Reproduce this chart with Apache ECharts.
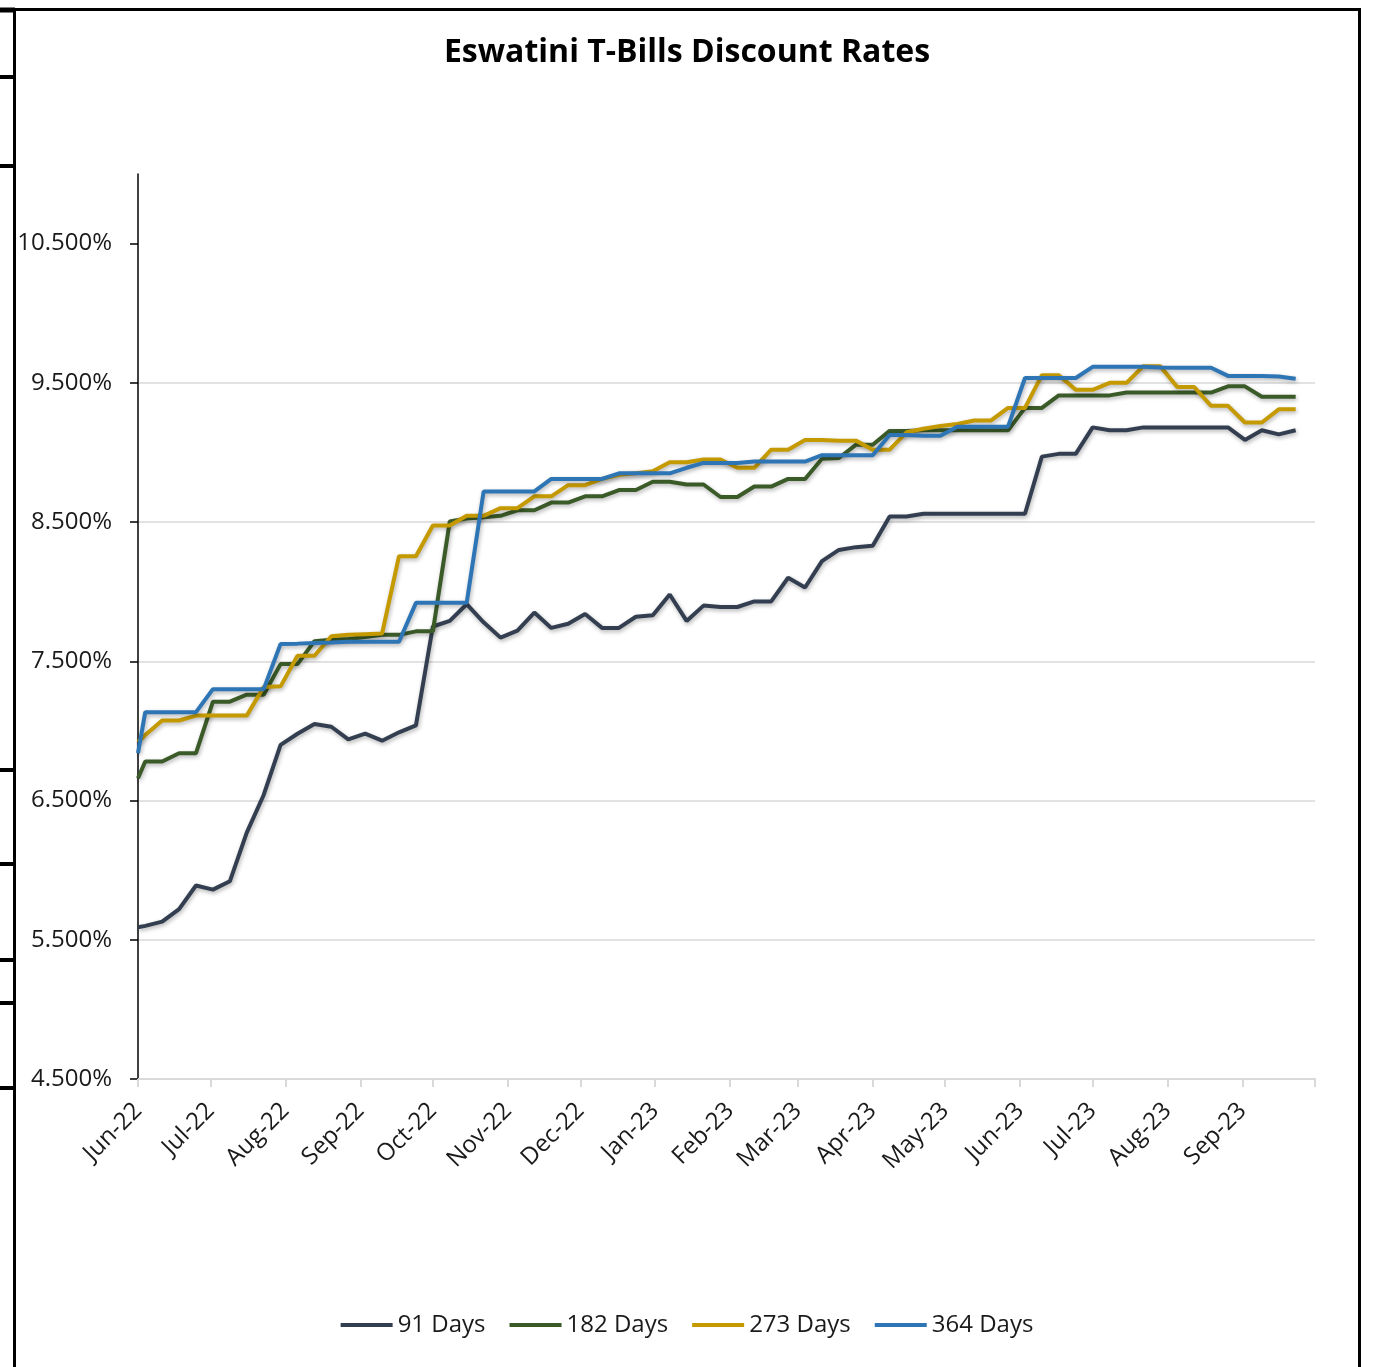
<!DOCTYPE html>
<html>
<head>
<meta charset="utf-8">
<script src="https://cdn.jsdelivr.net/npm/echarts@6/dist/echarts.min.js"></script>
<style>
html,body{margin:0;padding:0;background:#fff;}
#chart{width:1374px;height:1367px;}
</style>
</head>
<body>
<div id="chart"></div>
<script>
// Auction dates (weekly), first entry at the axis start
const dates = [
  '2022-06-01',
  '2022-06-04','2022-06-11','2022-06-18','2022-06-25','2022-07-02','2022-07-09','2022-07-16','2022-07-23','2022-07-30','2022-08-06',
  '2022-08-13','2022-08-20','2022-08-27','2022-09-03','2022-09-10','2022-09-17','2022-09-24','2022-10-01','2022-10-08','2022-10-15',
  '2022-10-22','2022-10-29','2022-11-05','2022-11-12','2022-11-19','2022-11-26','2022-12-03','2022-12-10','2022-12-17','2022-12-24',
  '2022-12-31','2023-01-07','2023-01-14','2023-01-21','2023-01-28','2023-02-04','2023-02-11','2023-02-18','2023-02-25','2023-03-04',
  '2023-03-11','2023-03-18','2023-03-25','2023-04-01','2023-04-08','2023-04-15','2023-04-22','2023-04-29','2023-05-06','2023-05-13',
  '2023-05-20','2023-05-27','2023-06-03','2023-06-10','2023-06-17','2023-06-24','2023-07-01','2023-07-08','2023-07-15','2023-07-22',
  '2023-07-29','2023-08-05','2023-08-12','2023-08-19','2023-08-26','2023-09-02','2023-09-09','2023-09-16','2023-09-23'
];

const seriesNames = ['91 Days', '182 Days', '273 Days', '364 Days'];

const days91 = [
  5.59,
  5.60, 5.63, 5.72, 5.89, 5.86, 5.92, 6.27, 6.54, 6.90, 6.98,
  7.05, 7.03, 6.94, 6.98, 6.93, 6.99, 7.04, 7.75, 7.79, 7.91,
  7.78, 7.67, 7.72, 7.85, 7.74, 7.77, 7.84, 7.74, 7.74, 7.82,
  7.83, 7.98, 7.79, 7.90, 7.89, 7.89, 7.93, 7.93, 8.10, 8.03,
  8.22, 8.30, 8.32, 8.33, 8.54, 8.54, 8.56, 8.56, 8.56, 8.56,
  8.56, 8.56, 8.56, 8.97, 8.99, 8.99, 9.18, 9.16, 9.16, 9.18,
  9.18, 9.18, 9.18, 9.18, 9.18, 9.09, 9.16, 9.13, 9.16
];

const days182 = [
  6.66,
  6.78, 6.78, 6.84, 6.84, 7.21, 7.21, 7.26, 7.26, 7.48, 7.48,
  7.645, 7.655, 7.66, 7.675, 7.69, 7.69, 7.715, 7.715, 8.505, 8.525,
  8.535, 8.545, 8.585, 8.585, 8.64, 8.64, 8.685, 8.685, 8.73, 8.73,
  8.79, 8.79, 8.77, 8.77, 8.68, 8.68, 8.755, 8.755, 8.81, 8.81,
  8.955, 8.96, 9.055, 9.055, 9.155, 9.155, 9.16, 9.16, 9.16, 9.16,
  9.16, 9.16, 9.32, 9.32, 9.41, 9.41, 9.41, 9.41, 9.43, 9.43,
  9.43, 9.43, 9.43, 9.43, 9.475, 9.475, 9.40, 9.40, 9.40
];

const days273 = [
  6.92,
  6.97, 7.075, 7.075, 7.11, 7.11, 7.11, 7.11, 7.315, 7.32, 7.54,
  7.54, 7.68, 7.69, 7.695, 7.70, 8.255, 8.255, 8.475, 8.475, 8.545,
  8.545, 8.60, 8.60, 8.685, 8.685, 8.765, 8.765, 8.81, 8.84, 8.85,
  8.865, 8.93, 8.93, 8.95, 8.95, 8.89, 8.89, 9.02, 9.02, 9.09,
  9.09, 9.085, 9.085, 9.02, 9.02, 9.145, 9.17, 9.19, 9.205, 9.23,
  9.23, 9.32, 9.32, 9.555, 9.555, 9.45, 9.45, 9.50, 9.50, 9.62,
  9.62, 9.47, 9.47, 9.335, 9.335, 9.215, 9.215, 9.31, 9.31
];

const days364 = [
  6.84,
  7.135, 7.135, 7.135, 7.135, 7.30, 7.30, 7.30, 7.30, 7.625, 7.627,
  7.632, 7.635, 7.64, 7.64, 7.64, 7.64, 7.92, 7.92, 7.92, 7.92,
  8.72, 8.72, 8.72, 8.72, 8.81, 8.81, 8.81, 8.81, 8.85, 8.85,
  8.85, 8.85, 8.89, 8.925, 8.925, 8.925, 8.935, 8.935, 8.935, 8.935,
  8.98, 8.98, 8.98, 8.98, 9.125, 9.125, 9.12, 9.12, 9.185, 9.185,
  9.185, 9.185, 9.535, 9.535, 9.535, 9.535, 9.615, 9.615, 9.615, 9.615,
  9.61, 9.608, 9.608, 9.608, 9.55, 9.55, 9.55, 9.545, 9.53
];

const yTicks = [4.5, 5.5, 6.5, 7.5, 8.5, 9.5, 10.5];
const monthNames = ['Jan','Feb','Mar','Apr','May','Jun','Jul','Aug','Sep','Oct','Nov','Dec'];
const colors = ['#333F50', '#3A5A28', '#C59A00', '#2E75B6'];
const xMin = '2022-06-01';
const xMax = '2023-10-01';

const valueSets = [days91, days182, days273, days364];

const chart = echarts.init(document.getElementById('chart'), null, {renderer: 'canvas'});

const FONT = '"Open Sans", "Noto Sans", sans-serif';
const xMaxTs = echarts.time.parse(xMax).getTime();

const series = seriesNames.map((name, i) => ({
  name: name,
  type: 'line',
  data: dates.map((d, j) => [d, valueSets[i][j]]),
  showSymbol: false,
  symbol: 'none',
  smooth: false,
  z: 3 + i,
  lineStyle: {
    color: colors[i],
    width: 4,
    shadowColor: 'rgba(0,0,0,0.3)',
    shadowBlur: 4,
    shadowOffsetX: 1,
    shadowOffsetY: 2
  },
  itemStyle: { color: colors[i] }
}));

const frame = [];
const stubYs = [77, 166, 770, 864, 960, 1003, 1088];
frame.push({ type: 'line', shape: {x1: 0, y1: 9.5, x2: 1361, y2: 9.5}, style: {stroke: '#000', lineWidth: 3} });
frame.push({ type: 'line', shape: {x1: 0, y1: 10, x2: 15, y2: 10}, style: {stroke: '#000', lineWidth: 5} });
frame.push({ type: 'line', shape: {x1: 14.5, y1: 8, x2: 14.5, y2: 1367}, style: {stroke: '#000', lineWidth: 3} });
frame.push({ type: 'line', shape: {x1: 1359.5, y1: 8, x2: 1359.5, y2: 1367}, style: {stroke: '#000', lineWidth: 3} });
stubYs.forEach(y => frame.push({ type: 'line', shape: {x1: 0, y1: y, x2: 15, y2: y}, style: {stroke: '#000', lineWidth: 4} }));

chart.setOption({
  backgroundColor: '#ffffff',
  animation: false,
  color: colors,
  title: {
    text: 'Eswatini T-Bills Discount Rates',
    left: 'center',
    top: 32,
    textStyle: { fontFamily: FONT, fontSize: 32, fontWeight: 'bold', color: '#000' }
  },
  legend: {
    data: seriesNames,
    bottom: 25,
    left: 'center',
    icon: 'rect',
    itemWidth: 52,
    itemHeight: 4,
    itemGap: 24,
    textStyle: { fontFamily: FONT, fontSize: 24, color: '#1a1a1a' }
  },
  grid: { left: 138, right: 59, top: 174, bottom: 288, containLabel: false },
  xAxis: {
    type: 'time',
    min: xMin,
    max: xMax,
    minInterval: 28 * 24 * 3600 * 1000,
    maxInterval: 31 * 24 * 3600 * 1000,
    splitNumber: 16,
    axisLine: { show: true, lineStyle: { color: '#d9d9d9', width: 2 } },
    axisTick: { show: true, length: 8, lineStyle: { color: '#d9d9d9', width: 2 } },
    splitLine: { show: false },
    axisLabel: {
      rotate: 45,
      margin: 28,
      fontFamily: FONT,
      fontSize: 24,
      color: '#1a1a1a',
      hideOverlap: false,
      showMaxLabel: false,
      formatter: function (v) {
        if (v >= xMaxTs - 3600 * 1000) return '';
        const d = new Date(v);
        return monthNames[d.getMonth()] + '-' + String(d.getFullYear()).slice(2);
      }
    }
  },
  yAxis: {
    type: 'value',
    min: 4.5,
    max: 11,
    interval: 1,
    axisLine: { show: true, lineStyle: { color: '#000', width: 1.5 } },
    axisTick: { show: true, length: 8, customValues: yTicks, lineStyle: { color: '#000', width: 1.5 } },
    splitLine: { show: true, showMaxLine: false, lineStyle: { color: '#d9d9d9', width: 1.5 } },
    axisLabel: {
      margin: 26,
      fontFamily: FONT,
      fontSize: 24,
      color: '#1a1a1a',
      customValues: yTicks,
      formatter: function (v) { return v.toFixed(3) + '%'; }
    }
  },
  graphic: frame,
  series: series
});
</script>
</body>
</html>
